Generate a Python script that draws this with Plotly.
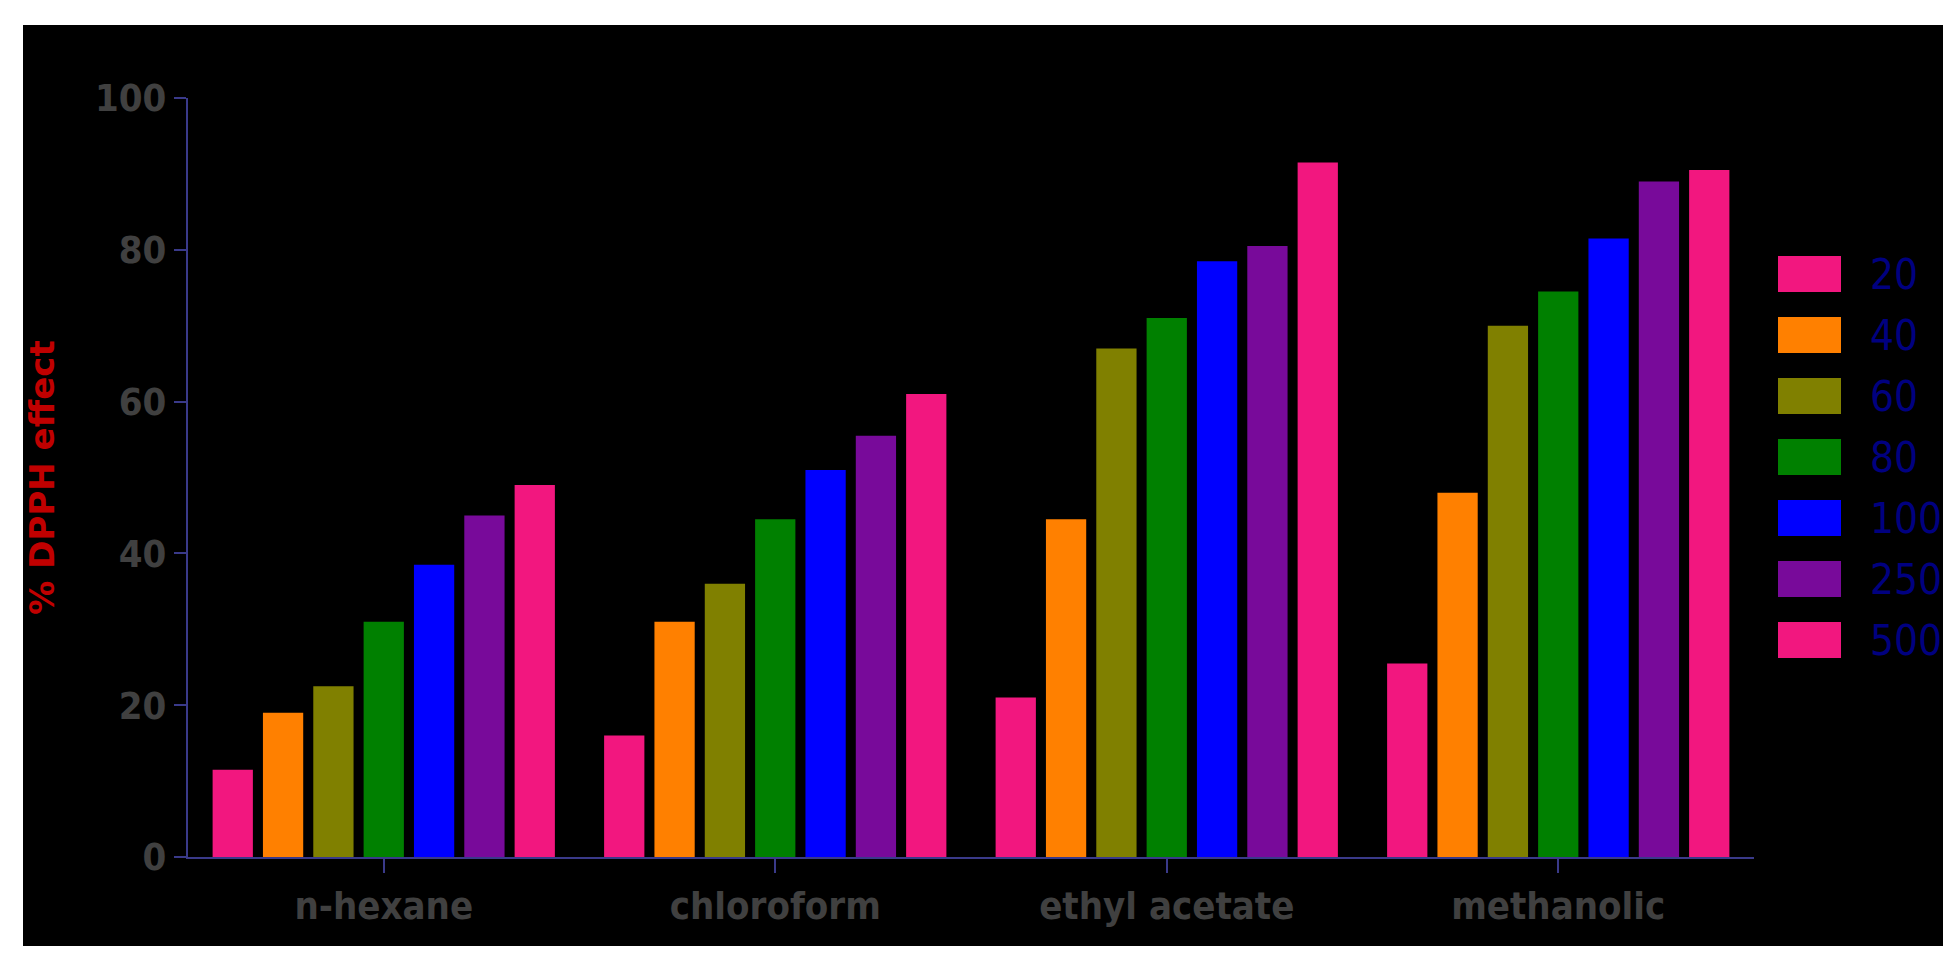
import plotly.graph_objects as go

categories = ["n-hexane", "chloroform", "ethyl acetate", "methanolic"]
series_names = ["20", "40", "60", "80", "100", "250", "500"]
values = {
    "20": [11.5, 16, 21, 25.5],
    "40": [19, 31, 44.5, 48],
    "60": [22.5, 36, 67, 70],
    "80": [31, 44.5, 71, 74.5],
    "100": [38.5, 51, 78.5, 81.5],
    "250": [45, 55.5, 80.5, 89],
    "500": [49, 61, 91.5, 90.5],
}
colors = ["#F2177F", "#FF8000", "#808000", "#008000", "#0000FF", "#780A9A", "#F2177F"]

W, H = 1951, 955
ml, mr, mt, mb = 180, 205, 90, 106
pw, ph = W - ml - mr, H - mt - mb

fig = go.Figure()
for name, c in zip(series_names, colors):
    fig.add_trace(go.Bar(x=categories, y=values[name], name=name, marker=dict(color=c, line=dict(width=0)),
                         showlegend=False))

shapes = [dict(type="rect", xref="paper", yref="paper", layer="below",
               x0=(15 - ml) / pw, x1=(1936 - ml) / pw, y0=(H - mb - 938) / ph, y1=(H - mb - 17) / ph,
               fillcolor="black", line=dict(width=0))]
annotations = []
for i, (name, c) in enumerate(zip(series_names, colors)):
    yc = 266 + 61 * i
    yp = (H - mb - yc) / ph
    shapes.append(dict(type="rect", xref="paper", yref="paper", x0=(1770 - ml) / pw, x1=(1833 - ml) / pw,
                       y0=yp - 18 / ph, y1=yp + 18 / ph, fillcolor=c, line=dict(width=0)))
    annotations.append(dict(xref="paper", yref="paper", x=(1860 - ml) / pw, y=yp, text=name, showarrow=False,
                            xanchor="left", yanchor="middle",
                            font=dict(family="DejaVu Sans Condensed", size=42, color="#000080")))

tf = dict(family="DejaVu Sans Condensed", size=38, color="#404040", weight="bold")
fig.update_layout(
    width=W, height=H, margin=dict(l=ml, r=mr, t=mt, b=mb),
    paper_bgcolor="white", plot_bgcolor="black",
    barmode="group", bargap=0.1, bargroupgap=0.2,
    shapes=shapes, annotations=annotations,
    xaxis=dict(showgrid=False, showline=True, linecolor="#3A3A8A", linewidth=2, ticks="outside",
               tickcolor="#3A3A8A", ticklen=14, tickwidth=2, tickfont=tf),
    yaxis=dict(range=[0, 100], dtick=20, showgrid=False, zeroline=False, showline=True, linecolor="#3A3A8A",
               linewidth=2, ticks="outside", tickcolor="#3A3A8A", ticklen=12, tickwidth=2, tickfont=tf,
               title=dict(text="% DPPH effect", standoff=30,
                          font=dict(family="DejaVu Sans", size=34, color="#C00000", weight="bold"))),
)
fig.write_html("out.html")
